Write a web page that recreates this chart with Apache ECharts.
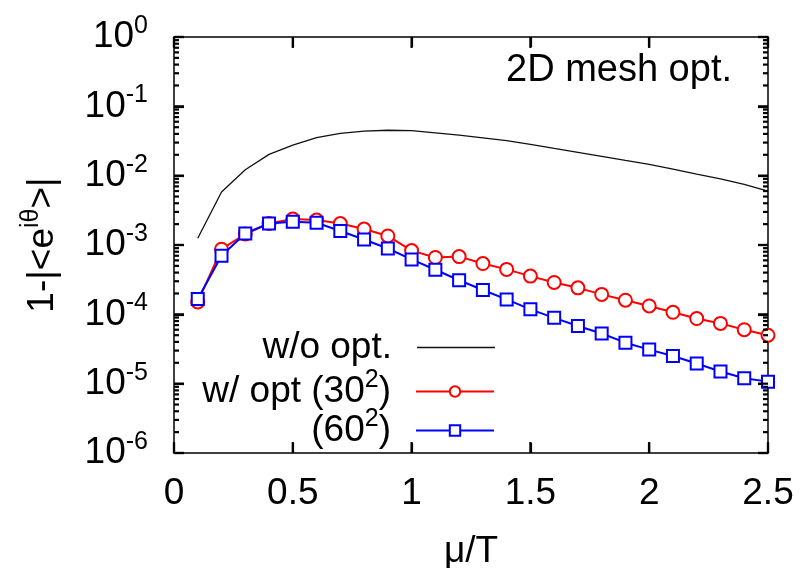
<!DOCTYPE html>
<html>
<head>
<meta charset="utf-8">
<script src="https://cdn.jsdelivr.net/npm/echarts@6/dist/echarts.min.js"></script>
<style>html,body{margin:0;padding:0;background:#fff}#c{width:806px;height:568px}</style>
</head>
<body>
<div id="c"></div>
<script>
// ---- data ----
const muT = [0.1,0.2,0.3,0.4,0.5,0.6,0.7,0.8,0.9,1.0,1.1,1.2,1.3,1.4,1.5,1.6,1.7,1.8,1.9,2.0,2.1,2.2,2.3,2.4,2.5];
const woOpt = [1.25e-3,5.8e-3,1.22e-2,2.03e-2,2.76e-2,3.54e-2,4.08e-2,4.4e-2,4.52e-2,4.45e-2,4.15e-2,3.85e-2,3.52e-2,3.2e-2,2.83e-2,2.47e-2,2.17e-2,1.9e-2,1.66e-2,1.46e-2,1.24e-2,1.05e-2,9.0e-3,7.5e-3,6.0e-3];
const opt30 = [1.51e-4,8.7e-4,1.44e-3,2.04e-3,2.37e-3,2.29e-3,2.04e-3,1.70e-3,1.35e-3,8.3e-4,6.6e-4,6.8e-4,5.4e-4,4.45e-4,3.56e-4,2.88e-4,2.41e-4,1.94e-4,1.60e-4,1.32e-4,1.07e-4,8.7e-5,7.4e-5,6.0e-5,5.0e-5];
const opt60 = [1.66e-4,7.0e-4,1.47e-3,2.04e-3,2.16e-3,2.09e-3,1.59e-3,1.20e-3,8.9e-4,6.2e-4,4.4e-4,3.1e-4,2.24e-4,1.64e-4,1.18e-4,8.9e-5,6.8e-5,5.3e-5,3.9e-5,3.1e-5,2.5e-5,1.95e-5,1.5e-5,1.2e-5,1.07e-5];
const xTicks = [0, 0.5, 1, 1.5, 2, 2.5];
const yMin = 1e-6, yMax = 1;
const seriesNames = ['w/o opt.', 'w/ opt (30^2)', '(60^2)'];
const legendLabels = ['w/o opt.', 'w/ opt (30{sup|2})', '(60{sup|2})'];
const titleText = '2D mesh opt.';
const xName = 'μ/T';
const yName = '1-|<e{sup|iθ}>|';

// tick positions on the log axis: majors (powers of ten) and minors (2..9 within each decade)
const majorTicks = [];
const minorTicks = [];
for (let e = -6; e <= 0; e++) majorTicks.push([0, Math.pow(10, e), 10]);
for (let e = -6; e < 0; e++) for (let m = 2; m <= 9; m++) minorTicks.push([0, m * Math.pow(10, e), 5]);
const yTicks = majorTicks.concat(minorTicks);

const FONT = 'Liberation Sans, Arial, Helvetica, sans-serif';
const FS = 37, SUP = 25;
const rich = { sup: { fontSize: SUP, fontFamily: FONT, color: '#000', padding: [0, 0, 22, 0] } };

const pair = a => muT.map((x, i) => [x, a[i]]);

const chart = echarts.init(document.getElementById('c'));

function legendFor(i, top, extra) {
  return Object.assign({
    orient: 'vertical', align: 'right', right: 306, top: top,
    itemWidth: 78, itemHeight: 13, selectedMode: false,
    data: [seriesNames[i]],
    formatter: () => legendLabels[i],
    textStyle: { fontSize: FS, fontFamily: FONT, color: '#000', padding: [0, 20, 0, 0], rich: rich }
  }, extra || {});
}

const TICK_W = 2.2;
function yTick(side) {
  return (params, api) => {
    const y = api.coord([0, api.value(1)])[1];
    const len = api.value(2);
    const cs = params.coordSys;
    const x0 = side === 'left' ? cs.x : cs.x + cs.width;
    const x1 = side === 'left' ? cs.x + len : cs.x + cs.width - len;
    return { type: 'line', shape: { x1: x0, y1: y, x2: x1, y2: y }, style: { stroke: '#000', lineWidth: TICK_W } };
  };
}
function xTick(side) {
  return (params, api) => {
    const x = api.coord([api.value(0), 1e-3])[0];
    const cs = params.coordSys;
    const y0 = side === 'bottom' ? cs.y + cs.height : cs.y;
    const y1 = side === 'bottom' ? cs.y + cs.height - 11 : cs.y + 11;
    return { type: 'line', shape: { x1: x, y1: y0, x2: x, y2: y1 }, style: { stroke: '#000', lineWidth: TICK_W } };
  };
}

const option = {
  animation: false,
  title: { text: titleText, right: 69, top: 47, textStyle: { fontSize: 38, fontWeight: 'normal', fontFamily: FONT, color: '#000' } },
  legend: [
    legendFor(0, 324, { data: [{ name: seriesNames[0], icon: 'rect', itemStyle: { color: '#111' } }], itemHeight: 1.5 }),
    legendFor(1, 363),
    legendFor(2, 402)
  ],
  grid: { left: 174, right: 38, top: 37, bottom: 115, containLabel: false, outerBoundsMode: 'none' },
  xAxis: [{
    type: 'value', min: 0, max: 2.5, interval: 0.5,
    name: xName, nameLocation: 'middle', nameGap: 80,
    nameTextStyle: { fontSize: FS, fontFamily: FONT, color: '#000' },
    axisLine: { show: true, onZero: false, lineStyle: { color: '#000', width: 1.5 } },
    axisTick: { show: true, inside: true, length: 10, lineStyle: { color: '#000', width: TICK_W } },
    axisLabel: { margin: 22, fontSize: FS, fontFamily: FONT, color: '#000', formatter: v => xTicks.includes(+v.toFixed(1)) ? String(+v.toFixed(1)) : '' },
    splitLine: { show: false }
  }, {
    type: 'value', position: 'top', min: 0, max: 2.5, interval: 0.5,
    axisLine: { show: true, onZero: false, lineStyle: { color: '#000', width: 1.5 } },
    axisTick: { show: true, inside: true, length: 10, lineStyle: { color: '#000', width: TICK_W } },
    axisLabel: { show: false }, splitLine: { show: false }
  }],
  yAxis: [{
    type: 'log', logBase: 10, min: yMin, max: yMax, splitNumber: 6,
    name: yName, nameLocation: 'middle', nameGap: 108, nameRotate: 90,
    nameTextStyle: { fontSize: FS, fontFamily: FONT, color: '#000', rich: rich },
    axisLine: { show: true, onZero: false, lineStyle: { color: '#000', width: 1.5 } },
    axisTick: { show: true, inside: true, length: 10, lineStyle: { color: '#000', width: TICK_W } },
    axisLabel: { margin: 26, fontSize: FS, fontFamily: FONT, color: '#000', rich: rich,
      formatter: v => '10{sup|' + Math.round(Math.log10(v)) + '}' },
    splitLine: { show: false }
  }, {
    type: 'log', logBase: 10, min: yMin, max: yMax, splitNumber: 6, position: 'right',
    axisLine: { show: true, onZero: false, lineStyle: { color: '#000', width: 1.5 } },
    axisTick: { show: true, inside: true, length: 10, lineStyle: { color: '#000', width: TICK_W } },
    axisLabel: { show: false }, splitLine: { show: false }
  }],
  series: [
    { type: 'custom', z: 10, clip: false, data: yTicks, encode: { x: 0, y: 1 }, renderItem: yTick('left') },
    { type: 'custom', z: 10, clip: false, data: yTicks, encode: { x: 0, y: 1 }, renderItem: yTick('right') },
    { type: 'custom', z: 10, clip: false, data: xTicks.map(v => [v, 1e-3]), encode: { x: 0, y: 1 }, renderItem: xTick('bottom') },
    { type: 'custom', z: 10, clip: false, data: xTicks.map(v => [v, 1e-3]), encode: { x: 0, y: 1 }, renderItem: xTick('top') },
    {
      type: 'line', name: seriesNames[0], data: pair(woOpt), showSymbol: false, symbol: 'none',
      lineStyle: { color: '#111', width: 1.3 }, itemStyle: { color: '#111' }, z: 3
    },
    {
      type: 'line', name: seriesNames[1], data: pair(opt30), symbol: 'emptyCircle', symbolSize: 13,
      lineStyle: { color: '#ff0000', width: 2 }, itemStyle: { color: '#ff0000', borderWidth: 2, borderColor: '#ff0000' }, z: 4
    },
    {
      type: 'line', name: seriesNames[2], data: pair(opt60), symbol: 'emptyRect', symbolSize: 12,
      lineStyle: { color: '#0000ff', width: 2 }, itemStyle: { color: '#0000ff', borderWidth: 2, borderColor: '#0000ff' }, z: 5
    }
  ]
};
chart.setOption(option);
</script>
</body>
</html>
